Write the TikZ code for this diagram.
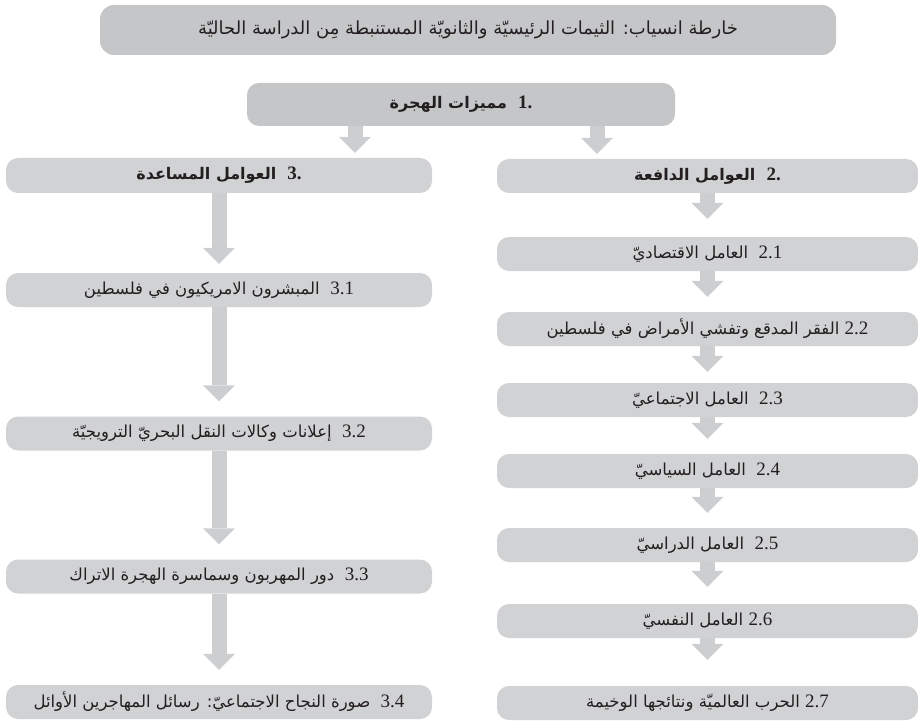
\documentclass[tikz,border=0pt]{standalone}
\usepackage{fontspec}
\setmainfont{Liberation Serif}
\newfontfamily\arabicfont[Script=Arabic]{DejaVu Sans}
\newfontfamily\numfont{Liberation Serif}
\TeXXeTstate=1
\usetikzlibrary{arrows.meta}
\definecolor{boxgray}{HTML}{D1D2D4}
\definecolor{headgray}{HTML}{C5C6C8}
\definecolor{arrowgray}{HTML}{CDCED0}
\definecolor{inkc}{HTML}{231F20}
\tikzset{
  basebox/.style={rectangle, rounded corners=12pt, inner sep=0pt, text=inkc, anchor=center},
  itembox/.style={basebox, fill=boxgray, minimum height=34pt,
    font=\arabicfont\fontsize{16.5}{18}\selectfont},
  leftbox/.style={itembox, minimum width=426pt},
  rightbox/.style={itembox, minimum width=421pt},
  headbox/.style={basebox, font=\arabicfont\bfseries\fontsize{16}{18}\selectfont},
  topbox/.style={basebox, fill=headgray, rounded corners=14pt},
  flow/.style={draw=arrowgray, line width=15pt,
    -{Triangle[width=32pt,length=16pt,line width=0pt]}, shorten >=15pt},
}
\newcommand{\itnum}[1]{{\numfont\fontsize{19}{19}\selectfont\beginL #1\endL}}
\newcommand{\hdnum}[1]{{\numfont\bfseries\fontsize{19}{19}\selectfont\beginL #1\endL}}
\begin{document}
\begin{tikzpicture}[x=1pt,y=-1pt]
\useasboundingbox (0,0) rectangle (918,722);
% title
\node[topbox, minimum width=736pt, minimum height=50pt, font=\arabicfont\fontsize{18}{20}\selectfont] (title) at (468,30)
  {\beginR خارطة انسياب: الثيمات الرئيسيّة والثانويّة المستنبطة مِن الدراسة الحاليّة\endR};
\node[topbox, headbox, fill=headgray, minimum width=428pt, minimum height=43pt] (b1) at (461,104.5)
  {\beginR\hdnum{1.}\ \ مميزات الهجرة\endR};
\node[leftbox, headbox, minimum height=35pt] (b3) at (219,175.5)
  {\beginR\hdnum{3.}\ \ العوامل المساعدة\endR};
\node[rightbox, headbox] (b2) at (707.5,176)
  {\beginR\hdnum{2.}\ \ العوامل الدافعة\endR};
% right column
\node[rightbox] (r1) at (707.5,254) {\beginR\itnum{2.1}\ \ العامل الاقتصاديّ\endR};
\node[rightbox] (r2) at (707.5,329) {\beginR\itnum{2.2}\ الفقر المدقع وتفشي الأمراض في فلسطين\endR};
\node[rightbox] (r3) at (707.5,400) {\beginR\itnum{2.3}\ \ العامل الاجتماعيّ\endR};
\node[rightbox] (r4) at (707.5,471) {\beginR\itnum{2.4}\ \ العامل السياسيّ\endR};
\node[rightbox] (r5) at (707.5,545) {\beginR\itnum{2.5}\ \ العامل الدراسيّ\endR};
\node[rightbox] (r6) at (707.5,621) {\beginR\itnum{2.6}\ العامل النفسيّ\endR};
\node[rightbox] (r7) at (707.5,703) {\beginR\itnum{2.7}\ الحرب العالميّة ونتائجها الوخيمة\endR};
% left column
\node[leftbox] (l1) at (219,290) {\beginR\itnum{3.1}\ \ المبشرون الامريكيون في فلسطين\endR};
\node[leftbox] (l2) at (219,433.5) {\beginR\itnum{3.2}\ \ إعلانات وكالات النقل البحريّ الترويجيّة\endR};
\node[leftbox] (l3) at (219,576.5) {\beginR\itnum{3.3}\ \ دور المهربون وسماسرة الهجرة الاتراك\endR};
\node[leftbox] (l4) at (219,702) {\beginR\itnum{3.4}\ \ صورة النجاح الاجتماعيّ: رسائل المهاجرين الأوائل\endR};
% arrows from box 1
\coordinate (s1) at ([xshift=-106pt]b1.south);
\coordinate (s2) at ([xshift=136pt]b1.south);
\draw[flow, shorten >=5pt] (s1) -- (s1 |- b3.north);
\draw[flow, shorten >=5pt] (s2) -- (s2 |- b2.north);
% right chain
\draw[flow, shorten >=18pt] (b2) -- (r1);
\draw[flow] (r1) -- (r2);
\draw[flow, shorten >=11pt] (r2) -- (r3);
\draw[flow] (r3) -- (r4);
\draw[flow] (r4) -- (r5);
\draw[flow, shorten >=17pt] (r5) -- (r6);
\draw[flow, shorten >=26pt] (r6) -- (r7);
% left chain
\draw[flow, shorten >=9pt] (b3) -- (l1);
\draw[flow] (l1) -- (l2);
\draw[flow] (l2) -- (l3);
\draw[flow] (l3) -- (l4);
\end{tikzpicture}
\end{document}
